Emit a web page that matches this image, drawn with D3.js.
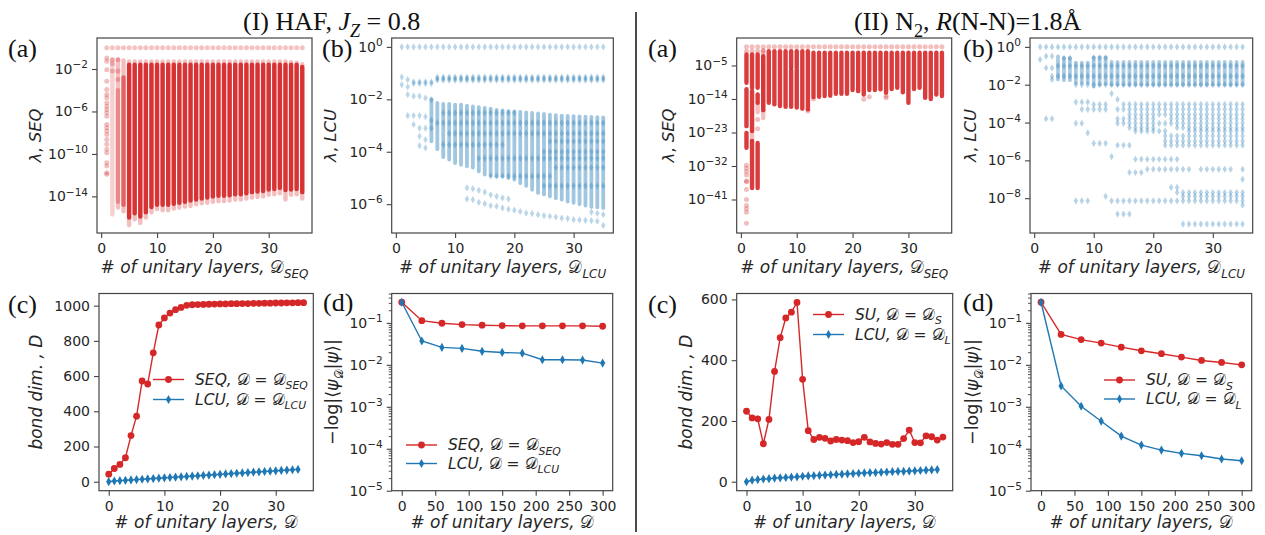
<!DOCTYPE html>
<html><head><meta charset="utf-8">
<script src="https://cdn.jsdelivr.net/npm/d3@7"></script>
<style>body{margin:0;background:#fff;}svg{display:block;}</style>
</head><body>
<svg id="chart" width="1265" height="535"></svg>
<script>
// ====================== DATA ======================
// All lambda values are stored as log10(lambda).
// ---- (I)(a) HAF, SEQ eigenvalue spectrum per number of layers
const hafSeqCols = [1,2,3,4,5,6,7,8,9,10,11,12,13,14,15,16,17,18,19,20,21,22,23,24,25,26,27,28,29,30,31,32,33,34,35,36];
const hafSeqLightHi = [null,-1.12,-1.1,-1.2,-1.3,-1.3,-1.3,-1.3,-1.3,-1.3,-1.3,-1.3,-1.3,-1.3,-1.3,-1.3,-1.3,-1.3,-1.3,-1.3,-1.3,-1.3,-1.3,-1.3,-1.3,-1.3,-1.3,-1.3,-1.3,-1.3,-1.3,-1.3,-1.3,-1.35,-1.4,-1.55];
const hafSeqLightLo = [null,-15.7,-15.05,-15.4,-16.7,-16.15,-16.5,-16.0,-15.5,-15.2,-15.3,-15.3,-15.15,-15.05,-14.95,-14.9,-14.75,-14.65,-14.6,-14.5,-14.45,-14.45,-14.4,-14.3,-14.3,-14.2,-14.1,-14.05,-14.0,-13.85,-13.8,-13.7,-14.3,-13.85,-13.8,-14.2];
const hafSeqCoreHi = [null,null,-4.0,-2.8,-1.6,-1.6,-1.6,-1.6,-1.6,-1.6,-1.6,-1.6,-1.6,-1.6,-1.6,-1.6,-1.6,-1.6,-1.6,-1.6,-1.6,-1.6,-1.6,-1.6,-1.6,-1.6,-1.6,-1.6,-1.6,-1.6,-1.6,-1.6,-1.6,-1.6,-1.6,-1.8];
const hafSeqCoreLo = [null,null,-14.5,-14.8,-16.0,-15.6,-15.9,-15.5,-15.0,-14.8,-14.8,-14.8,-14.7,-14.6,-14.5,-14.4,-14.3,-14.2,-14.1,-14.0,-13.95,-13.95,-13.9,-13.8,-13.8,-13.7,-13.6,-13.55,-13.5,-13.35,-13.3,-13.2,-13.4,-13.35,-13.3,-13.6];
const hafSeqCol1 = [-0.97,-1.28,-2.06,-3.16,-3.94,-4.41,-4.72,-5.19,-5.5,-5.82,-6.13,-6.44,-7.23,-7.54,-7.85,-8.17,-8.64,-9.1,-9.57,-9.89,-10.83,-11.14,-11.77,-11.92];
const hafSeqRows = [[0,1,36],[-1.12,2,3],[-1.5,2,2],[-2.2,2,3],[-3.0,3,3]];   // [log10 lambda, first D, last D]

// ---- (I)(b) HAF, LCU spectrum
const hafLcuRows = [[0,1,35],[-1.15,1,1],[-1.44,1,1],[-1.25,2,2],[-1.52,2,2],[-1.33,3,6],[-1.4,3,6],
  [-1.15,7,35],[-1.21,7,35],[-1.27,7,35],[-1.82,2,2],[-1.88,3,4],[-1.95,5,5],[-2.01,6,6],
  [-2.62,2,4],[-2.66,5,5],[-2.8,6,6],[-2.96,3,3],[-3.1,4,6],[-3.41,4,4],[-3.77,4,4],[-3.54,5,5],[-3.85,5,5],
  [-2.52,8,20],[-2.9,7,35],[-3.3,9,35],[-3.73,8,18],[-4.25,14,35],[-4.93,16,26],[-5.3,25,35],[-4.0,25,35],[-3.6,26,35],[-4.6,27,35]];
const hafLcuBands = [[6,-2.0,-3.6],[7,-2.14,-3.9],[8,-2.17,-4.2],[9,-2.17,-4.3],[10,-2.2,-4.43],[11,-2.2,-4.5],[12,-2.24,-4.55],
  [13,-2.27,-4.6],[14,-2.3,-4.75],[15,-2.33,-4.87],[16,-2.36,-4.9],[17,-2.4,-4.93],[18,-2.42,-4.93],[19,-2.45,-5.0],
  [20,-2.46,-5.06],[21,-2.48,-5.2],[22,-2.5,-5.3],[23,-2.52,-5.45],[24,-2.54,-5.57],[25,-2.56,-5.63],[26,-2.58,-5.7],
  [27,-2.6,-5.77],[28,-2.62,-5.83],[29,-2.63,-5.9],[30,-2.64,-5.95],[31,-2.65,-6.0],[32,-2.66,-6.05],[33,-2.67,-6.1],
  [34,-2.68,-6.12],[35,-2.69,-6.15]];
const hafLcuPts = [[12,-5.38],[13,-5.41],[14,-5.47],[15,-5.54],[16,-5.64],[17,-5.7],[18,-5.76],[19,-5.8],
  [12,-5.8],[13,-5.83],[14,-5.93],[15,-5.98],[16,-6.06],[17,-6.08],[18,-6.15],[19,-6.19],[20,-6.23],[21,-6.28],
  [22,-6.34],[23,-6.36],[24,-6.4],[25,-6.44],[26,-6.46],[27,-6.49],[28,-6.53],[29,-6.55],[30,-6.59],[31,-6.6],
  [32,-6.62],[33,-6.63],[34,-6.65],[35,-6.81],[35,-6.4],[34,-6.35],[33,-6.3]];

// ---- (II)(a) N2, SEQ spectrum
const n2SeqRows = [[0,1,36],[-1.15,1,4]];
const n2SeqCore = [[1,-2.05,-9.66],[1,-11.4,-21.3],[1,-23.1,-27.1],[2,-2.05,-11.0],[2,-11.9,-22.6],[2,-25.3,-37.9],
  [3,-2.05,-11.0],[3,-12.8,-15.0],[3,-25.8,-37.9],[4,-2.5,-17.0],[5,-1.15,-15.0],[6,-1.15,-15.4],[7,-1.15,-15.9],
  [8,-1.15,-16.1],[9,-1.15,-5.5],[9,-6.2,-16.1],[10,-1.15,-16.3],[11,-1.15,-16.6],[12,-1.15,-16.8],
  [13,-1.6,-13.5],[14,-1.6,-13.4],[15,-1.6,-13.2],[16,-1.6,-13.1],[17,-1.6,-12.6],[18,-1.6,-12.6],[19,-1.6,-12.6],
  [20,-1.6,-11.6],[21,-1.6,-11.9],[22,-1.6,-12.8],[23,-1.6,-11.6],[24,-1.6,-11.6],[25,-1.6,-11.4],[26,-1.6,-12.3],
  [27,-1.6,-11.3],[28,-1.6,-11.0],[29,-1.6,-12.2],[30,-1.6,-15.0],[31,-1.6,-11.3],[32,-1.6,-11.0],[33,-1.6,-13.7],
  [34,-1.6,-14.0],[35,-1.6,-12.8],[36,-1.6,-13.2]];
const n2SeqLight = [[4,-0.9,-19.1],[3,-15.0,-17.5],[2,-22.6,-25.3]];
const n2SeqPts = [[1,-31.8],[1,-32.6],[1,-33.5],[1,-34.4],[1,-36.0],[1,-36.2],[1,-38.3],[1,-41.0],[1,-42.6],[1,-43.5],
  [1,-44.4],[1,-47.4],[3,-19.5],[3,-22.0],[22,-14.1],[23,-13.4],[26,-13.2],[26,-13.7],[13,-14.0],[12,-17.2]];

// ---- (II)(b) N2, LCU spectrum
const n2LcuBands = [[4,-0.5,-1.72],[5,-0.58,-1.76],[6,-0.58,-1.76],[7,-0.83,-1.9],[8,-0.83,-1.9],[9,-0.83,-1.9],
  [10,-0.55,-2.1],[11,-0.55,-2.0],[12,-0.55,-1.95],[13,-0.8,-2.0],[14,-0.8,-2.0],[15,-0.8,-2.0],[16,-0.8,-2.0],
  [17,-0.8,-2.0],[18,-0.8,-2.0],[19,-0.8,-2.0],[20,-0.8,-2.0],[21,-0.8,-2.0],[22,-0.8,-2.0],[23,-0.8,-2.0],
  [24,-0.8,-2.0],[25,-0.8,-2.0],[26,-0.8,-2.0],[27,-0.8,-2.0],[28,-0.8,-2.0],[29,-0.8,-2.0],[30,-0.8,-2.0],
  [31,-0.8,-2.0],[32,-0.8,-2.0],[33,-0.8,-2.0],[34,-0.8,-2.0],[35,-0.8,-2.0]];
const n2LcuRows = [[0,1,35],[-0.67,1,1],[-0.49,2,3],[-1.11,2,3],[-1.55,3,3],[-1.72,3,3],[-3.8,2,3],
  [-1.0,4,35],[-1.55,4,35],[-2.0,7,35],[-0.58,10,12],[-0.6,5,6],
  [-2.92,7,9],[-3.04,10,12],[-3.04,15,35],[-3.3,8,12],[-3.3,14,35],[-3.57,16,35],[-3.8,14,20],[-3.8,23,35],
  [-4.04,7,8],[-4.04,14,35],[-4.27,16,20],[-4.27,24,35],[-4.45,17,22],[-4.45,26,35],[-4.55,9,9],[-4.71,22,35],
  [-4.97,22,35],[-5.1,10,12],[-5.2,14,16],[-5.2,22,35],[-5.8,13,13],[-5.94,17,24],[-6.47,19,26],[-6.47,28,33],
  [-6.47,35,35],[-6.64,16,18],[-7.0,35,35],[-7.43,23,24],[-7.7,24,35],[-7.9,12,12],[-7.9,25,35],[-8.14,7,9],
  [-8.14,13,35],[-8.37,35,35],[-8.84,14,16],[-9.37,25,35],[-2.47,13,13],[-2.78,14,14]];

// ---- (c) bond dimension vs number of unitary layers
const layersSeq = [0,1,2,3,4,5,6,7,8,9,10,11,12,13,14,15,16,17,18,19,20,21,22,23,24,25,26,27,28,29,30,31,32,33,34,35];
const layersLcu = [0,1,2,3,4,5,6,7,8,9,10,11,12,13,14,15,16,17,18,19,20,21,22,23,24,25,26,27,28,29,30,31,32,33,34];
const hafSeqBond = [43,75,98,136,262,372,572,555,732,890,930,958,977,990,1002,1005,1006,1007,1008,1009,1010,1010,1011,1011,1012,1012,1013,1013,1014,1014,1015,1015,1016,1016,1017,1017];
const hafLcuBond = [0,4,6,8,10,12,14,16,18,20,22,24,26,28,30,32,34,36,38,40,42,44,46,48,50,52,54,56,58,60,62,64,66,68,70];
const n2SuBond = [232,210,207,125,205,363,474,539,558,590,337,168,139,146,143,134,139,137,135,129,132,146,131,126,124,129,123,123,142,170,129,128,151,148,137,147];
const n2LcuBond = [0,5,7,9,10,12,13,14,15,16,18,19,20,21,22,23,24,25,26,27,28,29,30,30,31,32,33,34,34,35,36,37,38,39,40];

// ---- (d) -log overlap vs number of unitary layers
const layersOverlap = [0,30,60,90,120,150,180,210,240,270,300];
const hafSeqOverlap = [0.31,0.113,0.098,0.091,0.088,0.086,0.085,0.085,0.085,0.085,0.083];
const hafLcuOverlap = [0.31,0.037,0.026,0.0246,0.021,0.0197,0.019,0.0132,0.0132,0.013,0.011];
const n2SuOverlap  = [0.31,0.053,0.040,0.033,0.0264,0.0216,0.0184,0.0153,0.0127,0.0114,0.0100];
const n2LcuOverlap = [0.31,0.00313,0.00103,0.000453,0.0002,0.000122,0.000093,0.0000777,0.000068,0.000057,0.0000518];

// ---- ticks
const layerTicks = [0,10,20,30];
const overlapXTicks = [0,50,100,150,200,250,300];
const hafSeqYTicks = [-14,-10,-6,-2];
const hafLcuYTicks = [-6,-4,-2,0];
const n2SeqYTicks = [-41,-32,-23,-14,-5];
const n2LcuYTicks = [-8,-6,-4,-2,0];
const overlapYTicks = [-5,-4,-3,-2,-1];
const hafBondTicks = [0,200,400,600,800,1000];
const n2BondTicks = [0,200,400,600];

// ====================== DRAWING ======================
const svg = d3.select('#chart');
const RED = '#d62728', BLUE = '#1f77b4', SPINE = '#444', TXT = '#262626';
const SANS = 'DejaVu Sans', SERIF = 'Liberation Serif';
const CAL = '\u{1D49F}';
const MINUS = '\u2212';
svg.append('rect').attr('width',1265).attr('height',535).attr('fill','#fff');

let clipN = 0;
function panel(box, xd, yd, isLog) {
  const x = d3.scaleLinear().domain(xd).range([box.x0, box.x1]);
  const y = (isLog ? d3.scaleLog().domain(yd.map(e => Math.pow(10, e))) : d3.scaleLinear().domain(yd)).range([box.y1, box.y0]);
  const cid = 'clip' + (clipN++);
  svg.append('clipPath').attr('id', cid).append('rect')
    .attr('x', box.x0).attr('y', box.y0).attr('width', box.x1 - box.x0).attr('height', box.y1 - box.y0);
  const g = svg.append('g');
  const plot = g.append('g').attr('clip-path', `url(#${cid})`);
  return {box, x, y, g, plot, isLog};
}
const L = e => Math.pow(10, e);

function axes(P, xt, yt, minor) {
  const {box, x, y, g} = P;
  const ax = g.append('g').attr('transform', `translate(0,${box.y1})`)
    .call(d3.axisBottom(x).tickValues(xt).tickSize(5).tickPadding(5).tickFormat(d3.format('d')));
  const ay = g.append('g').attr('transform', `translate(${box.x0},0)`)
    .call(d3.axisLeft(y).tickValues(P.isLog ? yt.map(L) : yt).tickSize(5).tickPadding(4)
      .tickFormat(P.isLog ? () => '' : d3.format('d')));
  [ax, ay].forEach(a => {
    a.select('.domain').remove();
    a.attr('font-family', SANS).attr('font-size', 14).attr('color', SPINE);
    a.selectAll('text').attr('fill', TXT);
    a.selectAll('line').attr('stroke-width', 1.1);
  });
  if (P.isLog) {
    ay.selectAll('.tick text').each(function(d) {
      const e = Math.round(Math.log10(d));
      const t = d3.select(this);
      t.append('tspan').text('10');
      t.append('tspan').attr('dy', '-0.55em').attr('font-size', '10.5px').text(e < 0 ? MINUS + (-e) : String(e));
    });
  }
  if (minor) {
    const mv = [];
    for (let e = minor[0]; e < minor[1]; e++) for (let k = 2; k <= 9; k++) {
      const v = k * Math.pow(10, e);
      if (v <= y.domain()[1]) mv.push(v);
    }
    const am = g.append('g').attr('transform', `translate(${box.x0},0)`)
      .call(d3.axisLeft(y).tickValues(mv).tickSize(3).tickFormat(() => ''));
    am.select('.domain').remove();
    am.attr('color', SPINE).selectAll('line').attr('stroke-width', 0.9);
  }
  g.append('rect').attr('x', box.x0).attr('y', box.y0).attr('width', box.x1 - box.x0).attr('height', box.y1 - box.y0)
    .attr('fill', 'none').attr('stroke', SPINE).attr('stroke-width', 1.2);
}

function rich(sel, parts, size) {
  let shift = 0;
  parts.forEach(p => {
    const ts = sel.append('tspan').text(p.t);
    const target = p.sub ? size * 0.28 : 0;
    if (target !== shift) { ts.attr('dy', target - shift); shift = target; }
    if (p.sub) ts.attr('font-size', size * 0.7);
    if (p.it) ts.attr('font-style', 'italic');
    if (p.fam) ts.attr('font-family', p.fam);
  });
  return sel;
}
function xlabel(P, parts, off) {
  const t = svg.append('text').attr('x', (P.box.x0 + P.box.x1) / 2).attr('y', P.box.y1 + off)
    .attr('text-anchor', 'middle').attr('font-family', SANS).attr('font-size', 17).attr('fill', TXT);
  rich(t, parts, 17);
}
function ylabel(P, cx, parts, size) {
  const cy = (P.box.y0 + P.box.y1) / 2;
  const t = svg.append('text').attr('transform', `translate(${cx},${cy}) rotate(-90)`).attr('dy', '0.35em')
    .attr('text-anchor', 'middle').attr('font-family', SANS).attr('font-size', size || 16).attr('fill', TXT);
  rich(t, parts, size || 16);
}
function label(x, y, s) {
  svg.append('text').attr('x', x).attr('y', y).attr('font-family', SERIF).attr('font-size', 26).attr('fill', '#111').text(s);
}
const diamond = (w, h) => `M0,${-h}L${w},0L0,${h}L${-w},0Z`;
const expandRows = rows => rows.flatMap(([v, a, b]) => d3.range(a, b + 1).map(c => [c, v]));

// ---------------- layout ----------------
const TOP = {y0: 38, y1: 233}, BOT = {y0: 293.5, y1: 490.7};
const pIa  = panel({x0: 97,    x1: 312,    ...TOP}, [-0.75, 37.75], [-17.45, 0.92], true);
const pIb  = panel({x0: 391.7, x1: 613.3,  ...TOP}, [-0.7, 36.7],   [-7.1, 0.34],   true);
const pIIa = panel({x0: 736.7, x1: 951.7,  ...TOP}, [-0.75, 37.75], [-50, 2.38],    true);
const pIIb = panel({x0: 1030,  x1: 1252.7, ...TOP}, [-0.7, 36.7],   [-9.84, 0.47],  true);
const pIc  = panel({x0: 99,    x1: 313.3,  ...BOT}, [-1.75, 36.75], [-51, 1069],    false);
const pId  = panel({x0: 391.7, x1: 612.7,  ...BOT}, [-15, 315],     [-5, -0.3],     true);
const pIIc = panel({x0: 736.7, x1: 952.7,  ...BOT}, [-1.75, 36.75], [-29.5, 619.5], false);
const pIId = panel({x0: 1031,  x1: 1251.7, ...BOT}, [-15, 315],     [-5, -0.3],     true);

function vband(P, xv, hi, lo, color, op, w) {
  P.plot.append('line').attr('x1', P.x(xv)).attr('x2', P.x(xv)).attr('y1', P.y(L(hi))).attr('y2', P.y(L(lo)))
    .attr('stroke', color).attr('stroke-opacity', op).attr('stroke-width', w).attr('stroke-linecap', 'round');
}

// ---------------- (I)(a) ----------------
hafSeqCols.forEach((c, i) => {
  if (hafSeqLightHi[i] !== null) vband(pIa, c, hafSeqLightHi[i], hafSeqLightLo[i], RED, i < 2 ? 0.22 : 0.3, 4.4);
});
hafSeqCols.forEach((c, i) => {
  if (hafSeqCoreHi[i] !== null) vband(pIa, c, hafSeqCoreHi[i], hafSeqCoreLo[i], RED, i < 3 ? 0.35 : (i < 4 ? 0.6 : 0.92), 4.4);
});
pIa.plot.selectAll('c.col1').data(hafSeqCol1).join('circle')
  .attr('cx', pIa.x(1)).attr('cy', d => pIa.y(L(d))).attr('r', 2.5).attr('fill', RED).attr('fill-opacity', 0.3);
pIa.plot.selectAll('c.row').data(expandRows(hafSeqRows)).join('circle')
  .attr('cx', d => pIa.x(d[0])).attr('cy', d => pIa.y(L(d[1]))).attr('r', 2.5).attr('fill', RED).attr('fill-opacity', 0.28);
axes(pIa, layerTicks, hafSeqYTicks);

// ---------------- (I)(b) ----------------
hafLcuBands.forEach(([c, hi, lo]) => vband(pIb, c, hi, lo, BLUE, 0.42, 3.8));
pIb.plot.selectAll('path.pt').data(expandRows(hafLcuRows).concat(hafLcuPts)).join('path')
  .attr('d', diamond(2.2, 3.6)).attr('transform', d => `translate(${pIb.x(d[0])},${pIb.y(L(d[1]))})`)
  .attr('fill', BLUE).attr('fill-opacity', 0.3);
axes(pIb, layerTicks, hafLcuYTicks);

// ---------------- (II)(a) ----------------
n2SeqLight.forEach(([c, hi, lo]) => vband(pIIa, c, hi, lo, RED, 0.3, 4.4));
n2SeqCore.forEach(([c, hi, lo]) => vband(pIIa, c, hi, lo, RED, 0.9, 4.4));
pIIa.plot.selectAll('c.pt').data(expandRows(n2SeqRows).concat(n2SeqPts)).join('circle')
  .attr('cx', d => pIIa.x(d[0])).attr('cy', d => pIIa.y(L(d[1]))).attr('r', 2.5).attr('fill', RED).attr('fill-opacity', 0.3);
axes(pIIa, layerTicks, n2SeqYTicks);

// ---------------- (II)(b) ----------------
n2LcuBands.forEach(([c, hi, lo]) => vband(pIIb, c, hi, lo, BLUE, 0.38, 3.8));
pIIb.plot.selectAll('path.pt').data(expandRows(n2LcuRows)).join('path')
  .attr('d', diamond(2.2, 3.6)).attr('transform', d => `translate(${pIIb.x(d[0])},${pIIb.y(L(d[1]))})`)
  .attr('fill', BLUE).attr('fill-opacity', 0.32);
axes(pIIb, layerTicks, n2LcuYTicks);

// ---------------- line panels ----------------
function series(P, xs, ys, color, marker) {
  const pts = xs.map((x, i) => [x, ys[i]]);
  const line = d3.line().x(d => P.x(d[0])).y(d => P.y(d[1]));
  const g = P.g.append('g');
  g.append('path').attr('d', line(pts)).attr('fill', 'none').attr('stroke', color).attr('stroke-width', 1.4);
  if (marker === 'o') {
    g.selectAll('circle').data(pts).join('circle').attr('cx', d => P.x(d[0])).attr('cy', d => P.y(d[1]))
      .attr('r', 3.4).attr('fill', color);
  } else {
    g.selectAll('path.m').data(pts).join('path').attr('class', 'm').attr('d', diamond(2.6, 4.6))
      .attr('transform', d => `translate(${P.x(d[0])},${P.y(d[1])})`).attr('fill', color);
  }
}
axes(pIc, layerTicks, hafBondTicks);
series(pIc, layersSeq, hafSeqBond, RED, 'o');
series(pIc, layersLcu, hafLcuBond, BLUE, 'd');

axes(pId, overlapXTicks, overlapYTicks, [-5, 0]);
series(pId, layersOverlap, hafSeqOverlap, RED, 'o');
series(pId, layersOverlap, hafLcuOverlap, BLUE, 'd');

axes(pIIc, layerTicks, n2BondTicks);
series(pIIc, layersSeq, n2SuBond, RED, 'o');
series(pIIc, layersLcu, n2LcuBond, BLUE, 'd');

axes(pIId, overlapXTicks, overlapYTicks, [-5, 0]);
series(pIId, layersOverlap, n2SuOverlap, RED, 'o');
series(pIId, layersOverlap, n2LcuOverlap, BLUE, 'd');

// ---------------- legends ----------------
function legend(x0, rows) {
  rows.forEach(r => {
    const g = svg.append('g');
    g.append('line').attr('x1', x0).attr('x2', x0 + 31).attr('y1', r.y).attr('y2', r.y).attr('stroke', r.color).attr('stroke-width', 1.4);
    if (r.m === 'o') g.append('circle').attr('cx', x0 + 15.5).attr('cy', r.y).attr('r', 3.4).attr('fill', r.color);
    else g.append('path').attr('d', diamond(2.6, 4.6)).attr('transform', `translate(${x0 + 15.5},${r.y})`).attr('fill', r.color);
    const t = g.append('text').attr('x', x0 + 42).attr('y', r.y).attr('dy', '0.35em').attr('font-family', SANS)
      .attr('font-size', 15.5).attr('fill', TXT);
    rich(t, r.parts, 15.5);
  });
}
const legParts = (a, b) => [{t: a + ', ', it: true}, {t: CAL}, {t: ' = '}, {t: CAL}, {t: b, it: true, sub: true}];
legend(153, [{y: 379.5, color: RED, m: 'o', parts: legParts('SEQ', 'SEQ')}, {y: 399.5, color: BLUE, m: 'd', parts: legParts('LCU', 'LCU')}]);
legend(406, [{y: 445, color: RED, m: 'o', parts: legParts('SEQ', 'SEQ')}, {y: 463.5, color: BLUE, m: 'd', parts: legParts('LCU', 'LCU')}]);
legend(813, [{y: 314.5, color: RED, m: 'o', parts: legParts('SU', 'S')}, {y: 334.5, color: BLUE, m: 'd', parts: legParts('LCU', 'L')}]);
legend(1104, [{y: 380, color: RED, m: 'o', parts: legParts('SU', 'S')}, {y: 399, color: BLUE, m: 'd', parts: legParts('LCU', 'L')}]);

// ---------------- axis labels ----------------
const xl = sub => [{t: '# of unitary layers, ', it: true}, {t: CAL}].concat(sub ? [{t: sub, it: true, sub: true}] : []);
xlabel(pIa, xl('SEQ'), 40); xlabel(pIb, xl('LCU'), 40); xlabel(pIIa, xl('SEQ'), 40); xlabel(pIIb, xl('LCU'), 40);
xlabel(pIc, xl(''), 37.5); xlabel(pId, xl(''), 37.5); xlabel(pIIc, xl(''), 37.5); xlabel(pIId, xl(''), 37.5);
const lamLab = s => [{t: '\u03bb', it: true}, {t: ', '}, {t: s, it: true}];
ylabel(pIa, 35, lamLab('SEQ'), 16.5); ylabel(pIb, 330, lamLab('LCU'), 16.5); ylabel(pIIa, 668, lamLab('SEQ'), 16.5); ylabel(pIIb, 970, lamLab('LCU'), 16.5);
const bondLab = [{t: 'bond dim. ,  D', it: true}];
ylabel(pIc, 36, bondLab, 17); ylabel(pIIc, 686, bondLab, 17);
const ovLab = [{t: MINUS + 'log|\u27e8'}, {t: '\u03c8', it: true}, {t: CAL, sub: true}, {t: '|'}, {t: '\u03c8', it: true}, {t: '\u27e9|'}];
ylabel(pId, 332, ovLab, 17.5); ylabel(pIId, 972, ovLab, 17.5);

// ---------------- titles, panel letters, divider ----------------
rich(svg.append('text').attr('x', 243).attr('y', 30).attr('font-family', SERIF).attr('font-size', 26).attr('fill', '#111'),
  [{t: '(I) HAF, '}, {t: 'J', it: true}, {t: 'Z', it: true, sub: true}, {t: ' = 0.8'}], 26);
rich(svg.append('text').attr('x', 854).attr('y', 30).attr('font-family', SERIF).attr('font-size', 26).attr('fill', '#111'),
  [{t: '(II) N'}, {t: '2', sub: true}, {t: ', '}, {t: 'R', it: true}, {t: '(N-N)=1.8\u00c5'}], 26);
label(8, 57, '(a)'); label(322, 57, '(b)'); label(648, 57, '(a)'); label(963, 57, '(b)');
label(8, 313, '(c)'); label(323, 311, '(d)'); label(648, 313, '(c)'); label(963, 311, '(d)');
svg.append('line').attr('x1', 636).attr('x2', 636).attr('y1', 12).attr('y2', 532).attr('stroke', '#111').attr('stroke-width', 1.5);
</script>
</body></html>
